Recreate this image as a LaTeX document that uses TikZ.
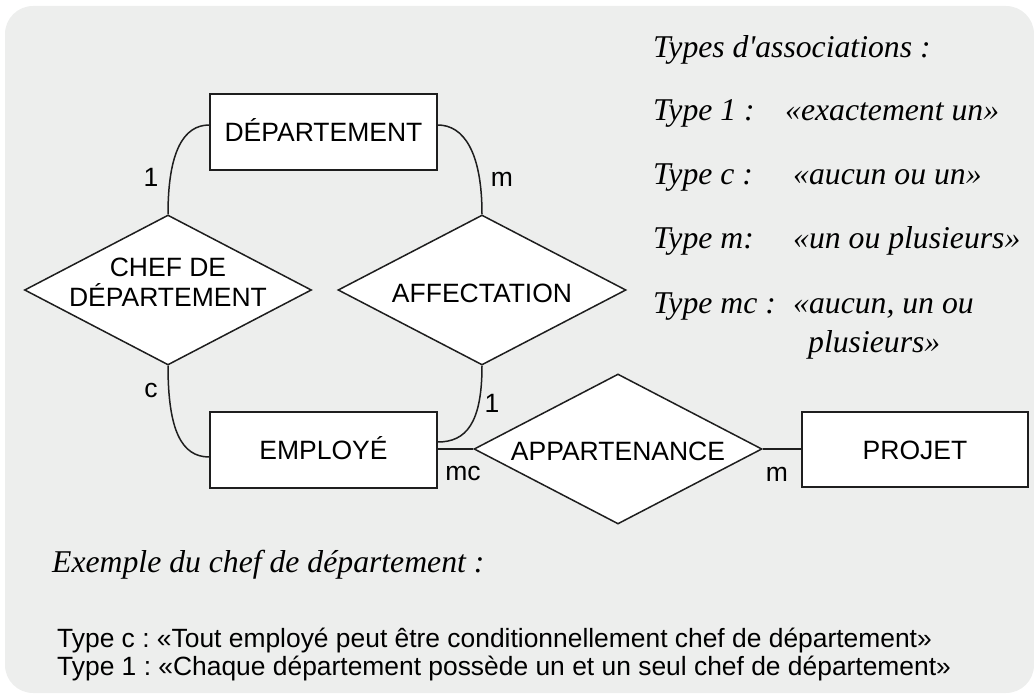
\documentclass[tikz,border=0pt]{standalone}
\usepackage{fontspec}
\setmainfont{Liberation Serif}
\setsansfont{Liberation Sans}
\usetikzlibrary{shapes.geometric,calc}
\definecolor{bggray}{HTML}{EDEEED}
\definecolor{ink}{HTML}{1E1E1E}
\frenchspacing
\tikzset{
  ent/.style={draw=ink, fill=white, line width=1.5pt, minimum width=227pt, minimum height=76pt,
    inner sep=0pt, font=\sffamily\fontsize{26.5}{30}\selectfont, text height=19pt, text depth=0pt},
  rel/.style={shape=diamond, draw=ink, fill=white, line width=1.5pt, minimum width=288pt,
    minimum height=150pt, inner sep=0pt},
  dtext/.style={font=\sffamily\fontsize{26.5}{30}\selectfont, text height=19pt, text depth=0pt, inner sep=0pt},
  card/.style={font=\sffamily\fontsize{26.5}{30}\selectfont, anchor=base, inner sep=0pt},
  conn/.style={draw=ink, line width=1.5pt},
  note/.style={font=\itshape\fontsize{31.7}{36}\selectfont, anchor=base west, inner sep=0pt},
  plain/.style={font=\sffamily\fontsize{26.4}{30}\selectfont, anchor=base west, inner sep=0pt},
}
\begin{document}
\begin{tikzpicture}[x=1pt, y=-1pt]
\useasboundingbox (0,0) rectangle (1034,695);
\fill[bggray, rounded corners=28pt] (5,6) rectangle (1034,693);

% entities
\node[ent] (dep) at (323.5,132) {DÉPARTEMENT};
\node[ent] (emp) at (323.5,450) {EMPLOYÉ};
\node[ent, minimum width=226pt, minimum height=75pt] (proj) at (915,449.5) {PROJET};

% relationships
\node[rel, minimum width=287pt] (chef) at (168,290) {};
\node[dtext] (chefa) at (168,267) {CHEF DE};
\node[dtext] (chefb) at (168,297) {DÉPARTEMENT};
\node[rel] (aff) at (482,290) {};
\node[dtext] (afft) at (482,293) {AFFECTATION};
\node[rel] (app) at (618,449) {};
\node[dtext] (appt) at (618,451) {APPARTENANCE};

% connectors
\draw[conn] (chef.north) .. controls +(0,-62) and +(-26,0) .. ([yshift=7pt]dep.west);
\draw[conn] (aff.north) .. controls +(0,-62) and +(26,0) .. ([yshift=7pt]dep.east);
\draw[conn] (chef.south) .. controls +(0,64) and +(-28,0) .. ([yshift=-7pt]emp.west);
\draw[conn] (aff.south) .. controls +(0,58) and +(28,0) .. ([yshift=8pt]emp.east);
\draw[conn] (emp.east |- app.west) -- (app.west);
\draw[conn] (app.east) -- (proj.west |- app.east);

% cardinalities
\node[card] (c1) at (151,187) {1};
\node[card] (c2) at (502,187) {m};
\node[card] (c3) at (151,397) {c};
\node[card] (c4) at (492,412) {1};
\node[card] (c5) at (463,480) {mc};
\node[card] (c6) at (777,481) {m};

% legend
\node[note] (t0) at (653,58) {Types d\textquotesingle associations :};
\node[note] (t1) at (653,121) {Type 1 :};
\node[note] (t1b) at (785,121) {«exactement un»};
\node[note] (t2) at (653,185) {Type c :};
\node[note] (t2b) at (793,185) {«aucun ou un»};
\node[note] (t3) at (653,249) {Type m:};
\node[note] (t3b) at (793,249) {«un ou plusieurs»};
\node[note] (t4) at (653,313) {Type mc :};
\node[note] (t4b) at (793,313) {«aucun, un ou};
\node[note] (t4c) at (808,352) {plusieurs»};

% example
\node[note] (ex) at (52,572) {Exemple du chef de département :};
\node[plain] (ex1) at (57,647) {Type c : «Tout employé peut être conditionnellement chef de département»};
\node[plain] (ex2) at (57,675) {Type 1 : «Chaque département possède un et un seul chef de département»};
\end{tikzpicture}
\end{document}
